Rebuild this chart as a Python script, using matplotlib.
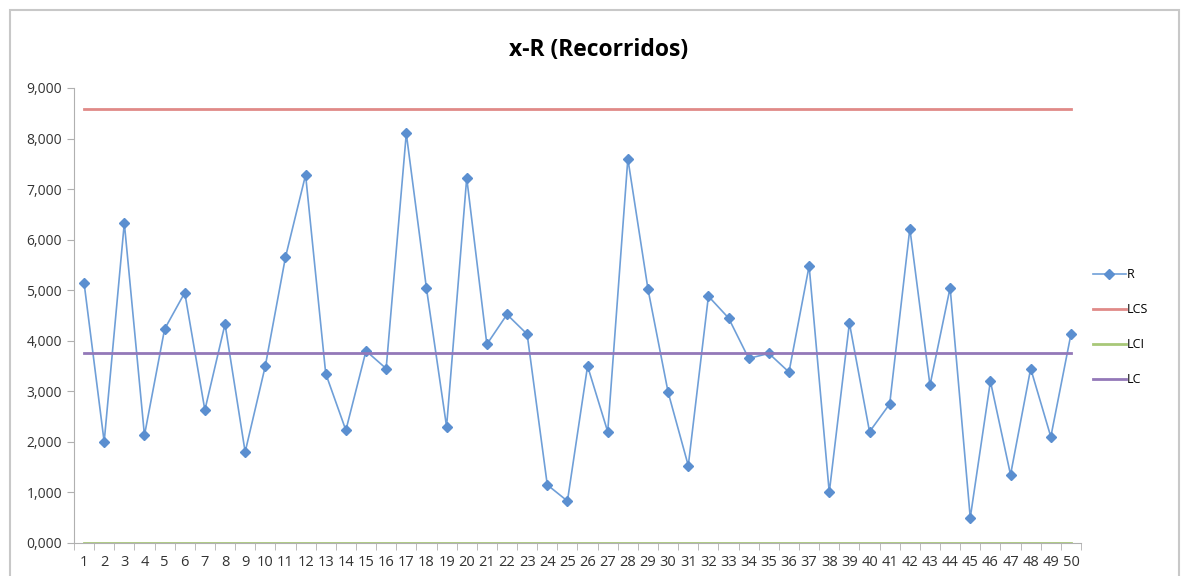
import matplotlib.pyplot as plt
from matplotlib.patches import Rectangle

plt.rcParams['font.family'] = ['Open Sans', 'DejaVu Sans']

muestras = list(range(1, 51))
r_values = [5.15, 2.00, 6.33, 2.13, 4.23, 4.95, 2.63, 4.33, 1.80, 3.50,
            5.65, 7.28, 3.35, 2.23, 3.80, 3.45, 8.10, 5.04, 2.30, 7.22,
            3.93, 4.52, 4.13, 1.15, 0.83, 3.50, 2.20, 7.60, 5.02, 2.98,
            1.53, 4.88, 4.45, 3.65, 3.75, 3.38, 5.48, 1.00, 4.35, 2.20,
            2.75, 6.22, 3.12, 5.05, 0.50, 3.20, 1.35, 3.45, 2.10, 4.13]
lcs = 8.58
lci = 0.0
lc = 3.76
y_ticks = [0, 1, 2, 3, 4, 5, 6, 7, 8, 9]

fig = plt.figure(figsize=(11.89, 5.76), dpi=100)
fig.patches.append(Rectangle((0.008, -0.05), 0.984, 1.033, transform=fig.transFigure,
                             fill=False, edgecolor='#c8c8c8', linewidth=1.5))
ax = fig.add_axes([0.0622, 0.0573, 0.8470, 0.7900])

ax.plot(muestras, r_values, color='#6f9fd8', linewidth=1.2, marker='D',
        markersize=5, markerfacecolor='#5b8fd0', markeredgecolor='#5b8fd0', label='R')
ax.plot(muestras, [lcs] * len(muestras), color='#e08a88', linewidth=2, label='LCS')
ax.plot(muestras, [lci] * len(muestras), color='#a8c878', linewidth=2, label='LCI')
ax.plot(muestras, [lc] * len(muestras), color='#9378b8', linewidth=2, label='LC')

ax.set_xlim(0.5, 50.5)
ax.set_ylim(0, 9)
ax.set_yticks(y_ticks)
ax.set_yticklabels([f"{v:.3f}".replace('.', ',') for v in y_ticks], fontsize=10, color='#333333')
ax.set_xticks(muestras)
ax.set_xticklabels([str(m) for m in muestras], fontsize=10.5, color='#333333')
ax.set_xticks([m + 0.5 for m in range(0, 51)], minor=True)
ax.tick_params(axis='x', which='major', length=0, pad=9)
ax.tick_params(axis='x', which='minor', length=5, color='#b0b0b0', direction='out')
ax.tick_params(axis='y', length=5, color='#b0b0b0', direction='out')

for side in ['top', 'right']:
    ax.spines[side].set_visible(False)
for side in ['left', 'bottom']:
    ax.spines[side].set_color('#b0b0b0')

fig.text(0.503, 0.913, 'x-R (Recorridos)', ha='center', va='center',
         fontsize=16.5, fontweight='bold')

ax.legend(loc='center left', bbox_to_anchor=(0.91, 0.432), bbox_transform=fig.transFigure,
          frameon=False, fontsize=9, labelspacing=1.75, handlelength=2.6, handletextpad=0.1)

plt.savefig('out.png', dpi=100)
plt.close()
